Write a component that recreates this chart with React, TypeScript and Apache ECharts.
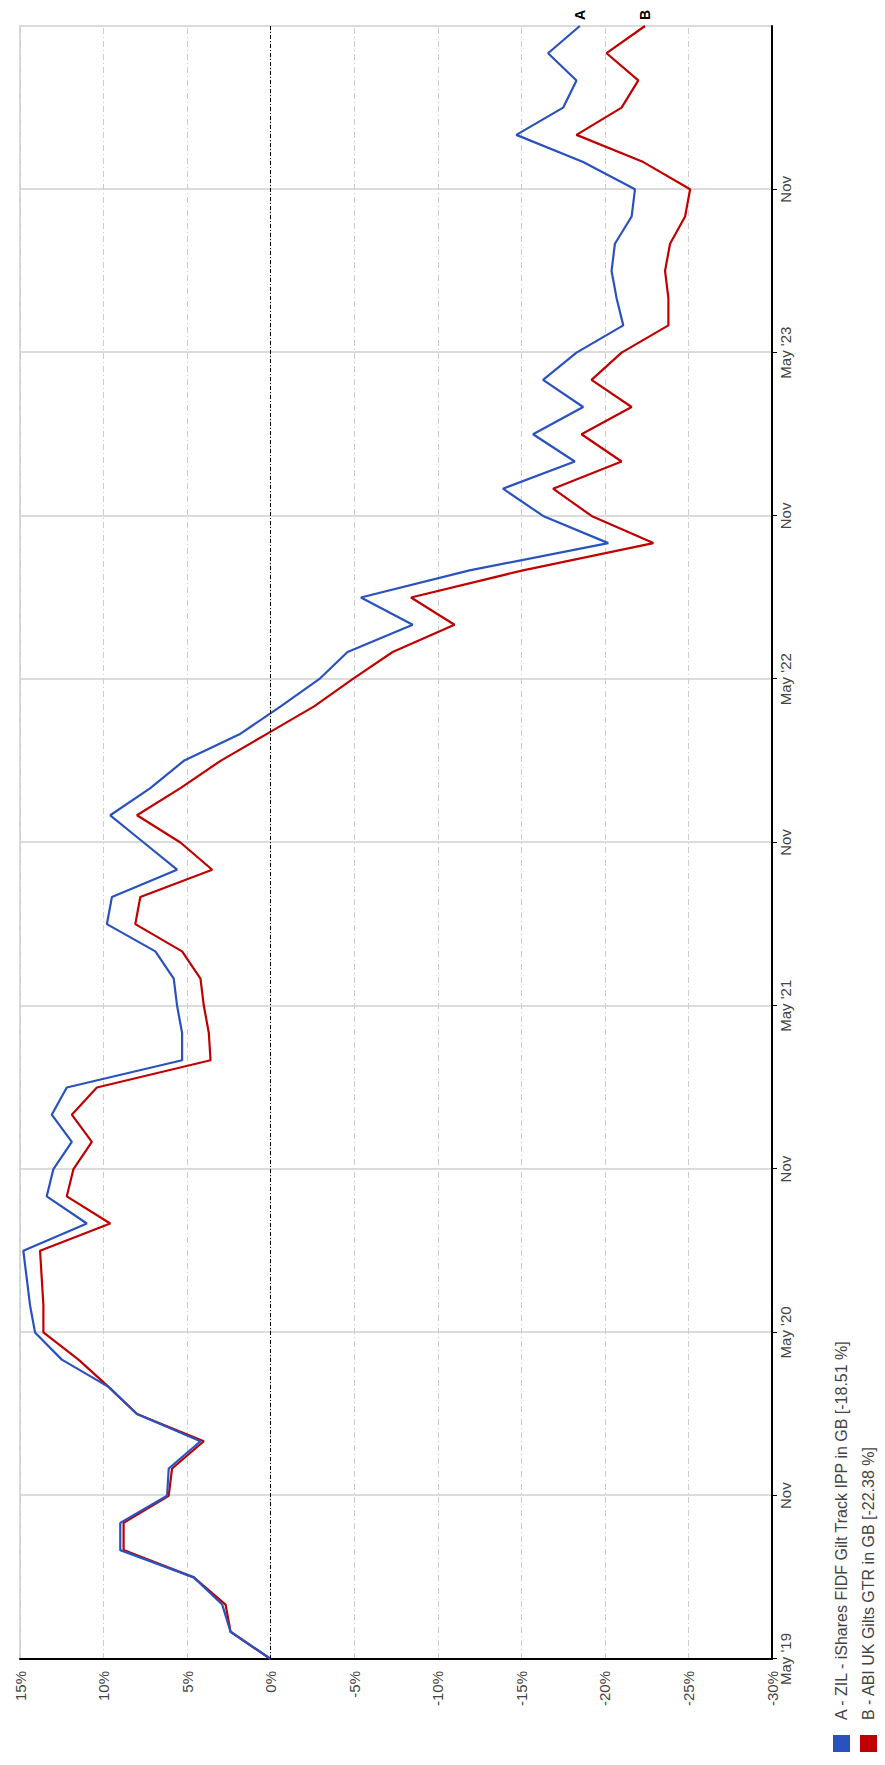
import { useEffect, useRef } from "react"
import * as echarts from "echarts"

// monthly points, May 2019 .. May 2024
const startYear = 2019
const startMonth = 4 // May (0-based)

const seriesA = [
  0, 2.4, 2.9, 4.6, 9.0, 9.0, 6.2, 6.1, 4.2, 8.0, 9.7,
  12.5, 14.1, 14.4, 14.6, 14.8, 11.0, 13.4, 13.0, 11.9, 13.1, 12.2,
  5.3, 5.3, 5.6, 5.8, 6.9, 9.8, 9.5, 5.6, 7.6, 9.6, 7.2,
  5.2, 1.8, -0.6, -2.9, -4.6, -8.5, -5.4, -11.9, -20.2, -16.3, -13.9,
  -18.2, -15.7, -18.7, -16.3, -18.3, -21.1, -20.7, -20.4, -20.6, -21.6, -21.8,
  -18.7, -14.7, -17.5, -18.3, -16.6, -18.5,
]

const seriesB = [
  0, 2.4, 2.7, 4.6, 8.8, 8.8, 6.1, 5.9, 4.0, 8.0, 9.7,
  11.5, 13.6, 13.6, 13.7, 13.8, 9.6, 12.2, 11.8, 10.7, 11.9, 10.4,
  3.6, 3.7, 4.0, 4.2, 5.3, 8.1, 7.8, 3.5, 5.4, 8.0, 5.4,
  3.0, 0.2, -2.6, -4.9, -7.3, -11.0, -8.4, -15.1, -22.9, -19.2, -16.9,
  -21.0, -18.6, -21.6, -19.2, -21.0, -23.8, -23.8, -23.6, -23.9, -24.8, -25.1,
  -22.3, -18.3, -21.0, -22.0, -20.1, -22.4,
]

const legendA = "A - ZIL - iShares FIDF Gilt Track IPP in GB [-18.51 %]"
const legendB = "B - ABI UK Gilts GTR in GB [-22.38 %]"

const categories = seriesA.map((_, i) => {
  const m = (startMonth + i) % 12
  const y = startYear + Math.floor((startMonth + i) / 12)
  if (i === seriesA.length - 1) return ""
  return m === 4 ? `May '${String(y).slice(2)}` : m === 10 ? "Nov" : ""
})
const isTick = (i: number) => categories[i] !== ""

const FONT = "Liberation Sans, Arial, sans-serif"

export default function App() {
  const chartRef = useRef<HTMLDivElement | null>(null)

  useEffect(() => {
    document.body.style.margin = "0"
    if (!chartRef.current) return
    const chart = echarts.init(chartRef.current, undefined, { renderer: "svg" })

    chart.setOption({
      animation: false,
      backgroundColor: "#fff",
      grid: {
        left: 106, right: 26, top: 20, bottom: 113,
        show: true, borderColor: "#cfcfcf", borderWidth: 1.5,
      },
      xAxis: {
        type: "category",
        data: categories,
        boundaryGap: false,
        axisLine: { onZero: false, lineStyle: { color: "#000", width: 2 } },
        axisTick: { interval: (i: number) => isTick(i), length: 5, lineStyle: { color: "#000" } },
        axisLabel: {
          interval: (i: number) => isTick(i),
          color: "#444", fontFamily: FONT, fontSize: 15, margin: 6,
        },
        splitLine: {
          show: true, interval: (i: number) => isTick(i),
          lineStyle: { color: "#d0d0d0", width: 1.5 },
        },
      },
      yAxis: {
        type: "value",
        min: -30, max: 15, interval: 5,
        axisLine: { show: true, lineStyle: { color: "#000", width: 2 } },
        axisTick: { show: false },
        axisLabel: {
          formatter: (v: number) => `${v}%`,
          color: "#444", fontFamily: FONT, fontSize: 15, margin: 12,
        },
        splitLine: { lineStyle: { color: "#cccccc", type: [6, 3, 1, 3], width: 1 } },
      },
      series: [
        {
          type: "line", name: "A", data: seriesA, symbol: "none",
          lineStyle: { color: "#2a52be", width: 2.2 }, itemStyle: { color: "#2a52be" },
          endLabel: {
            show: true, formatter: "A", fontWeight: "bold", fontFamily: FONT,
            fontSize: 14, color: "#000", distance: 6,
          },
          markLine: {
            silent: true, symbol: "none", label: { show: false },
            lineStyle: { color: "#000", type: [4, 2, 1, 2], width: 1 },
            data: [{ yAxis: 0 }],
          },
          z: 3,
        },
        {
          type: "line", name: "B", data: seriesB, symbol: "none",
          lineStyle: { color: "#c00000", width: 2.2 }, itemStyle: { color: "#c00000" },
          endLabel: {
            show: true, formatter: "B", fontWeight: "bold", fontFamily: FONT,
            fontSize: 14, color: "#000", distance: 6,
          },
          z: 2,
        },
      ],
      graphic: [
        { type: "rect", left: 13, top: 833, shape: { width: 17, height: 17 }, style: { fill: "#2a52be" } },
        { type: "rect", left: 13, top: 860, shape: { width: 17, height: 17 }, style: { fill: "#c00000" } },
        {
          type: "text", left: 45, top: 833,
          style: { text: legendA, fill: "#444", font: `16px ${FONT}` },
        },
        {
          type: "text", left: 45, top: 860,
          style: { text: legendB, fill: "#444", font: `16px ${FONT}` },
        },
      ],
    })

    return () => chart.dispose()
  }, [])

  return (
    <div style={{ position: "relative", width: 885, height: 1765, overflow: "hidden" }}>
      <div
        ref={chartRef}
        style={{
          position: "absolute", left: 0, top: 0, width: 1765, height: 885,
          transformOrigin: "0 0", transform: "translate(0px, 1765px) rotate(-90deg)",
        }}
      />
    </div>
  )
}
